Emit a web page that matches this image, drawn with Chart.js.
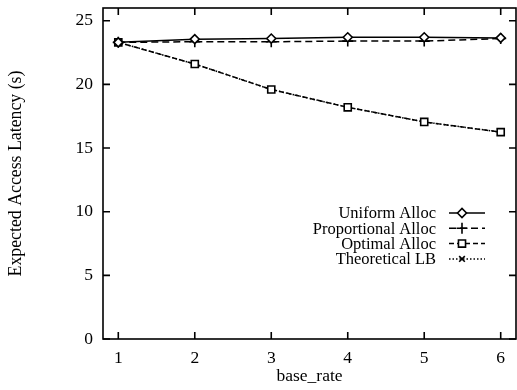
<!DOCTYPE html>
<html>
<head>
<meta charset="utf-8">
<script src="https://cdn.jsdelivr.net/npm/chart.js@4"></script>
<style>
  html, body { margin: 0; padding: 0; background: #fff; }
  #wrap { width: 517px; height: 390px; }
</style>
</head>
<body>
<div id="wrap"><canvas id="latencyChart" width="517" height="390"></canvas></div>
<script>
const baseRate = [1, 2, 3, 4, 5, 6];
const uniformAlloc = [23.3, 23.55, 23.6, 23.7, 23.7, 23.65];
const proportionalAlloc = [23.3, 23.35, 23.35, 23.4, 23.4, 23.6];
const optimalAlloc = [23.3, 21.6, 19.6, 18.2, 17.05, 16.25];
const theoreticalLB = [23.3, 21.6, 19.6, 18.2, 17.05, 16.25];
const yTicks = [0, 5, 10, 15, 20, 25];
const seriesNames = ["Uniform Alloc", "Proportional Alloc", "Optimal Alloc", "Theoretical LB"];

const FONT = "'Liberation Serif', 'DejaVu Serif', serif";
const ctx = document.getElementById("latencyChart").getContext("2d");

function toPoints(values) {
    return values.map((v, i) => ({ x: baseRate[i], y: v }));
}

const styles = [
    { dash: [], point: 'rectRot', radius: 4.5 },
    { dash: [7, 4], point: 'cross', radius: 5.5 },
    { dash: [5, 3], point: 'rect', radius: 5 },
    { dash: [1.5, 2], point: 'crossRot', radius: 4 }
];

const datasets = [uniformAlloc, proportionalAlloc, optimalAlloc, theoreticalLB].map((vals, i) => ({
    label: seriesNames[i],
    data: toPoints(vals),
    borderColor: '#000',
    backgroundColor: '#fff',
    borderWidth: 1.5,
    borderDash: styles[i].dash,
    pointStyle: styles[i].point,
    pointRadius: styles[i].radius,
    pointBorderWidth: 1.6,
    pointBorderColor: '#000',
    pointBackgroundColor: '#fff',
    tension: 0
}));

// inward ticks on every side plus frame
const frameTicks = {
    id: 'frameTicks',
    afterDraw(chart) {
        const { ctx, chartArea: a, scales } = chart;
        const len = 7;
        ctx.save();
        ctx.strokeStyle = '#000';
        ctx.lineWidth = 1.6;
        ctx.setLineDash([]);
        ctx.strokeRect(a.left, a.top, a.right - a.left, a.bottom - a.top);
        ctx.beginPath();
        scales.x.ticks.forEach(t => {
            const px = scales.x.getPixelForValue(t.value);
            ctx.moveTo(px, a.bottom); ctx.lineTo(px, a.bottom - len);
            ctx.moveTo(px, a.top); ctx.lineTo(px, a.top + len);
        });
        scales.y.ticks.forEach(t => {
            const py = scales.y.getPixelForValue(t.value);
            ctx.moveTo(a.left, py); ctx.lineTo(a.left + len, py);
            ctx.moveTo(a.right, py); ctx.lineTo(a.right - len, py);
        });
        ctx.stroke();
        ctx.restore();
    }
};

// gnuplot-like legend: right aligned text, line sample on the right
const gnuLegend = {
    id: 'gnuLegend',
    afterDraw(chart) {
        const { ctx } = chart;
        const textRight = 436, x0 = 449, x1 = 485, top = 213, step = 15.3;
        ctx.save();
        ctx.font = "16.5px " + FONT;
        ctx.textAlign = 'right';
        ctx.textBaseline = 'middle';
        chart.data.datasets.forEach((ds, i) => {
            const y = top + i * step;
            ctx.fillStyle = '#000';
            ctx.fillText(ds.label, textRight, y + 1);
            ctx.strokeStyle = '#000';
            ctx.lineWidth = ds.borderWidth;
            ctx.setLineDash(ds.borderDash);
            ctx.beginPath();
            ctx.moveTo(x0, y); ctx.lineTo(x1, y);
            ctx.stroke();
            ctx.setLineDash([]);
            ctx.fillStyle = '#fff';
            ctx.lineWidth = ds.pointBorderWidth;
            Chart.helpers.drawPoint(ctx, {
                pointStyle: ds.pointStyle,
                radius: ds.pointRadius,
                rotation: 0,
                borderWidth: ds.pointBorderWidth
            }, 462, y);
        });
        ctx.restore();
    }
};

const chart = new Chart(ctx, {
    type: 'line',
    data: { datasets: datasets },
    options: {
        responsive: false,
        animation: false,
        layout: { autoPadding: false, padding: { top: 8, right: 1, left: 0, bottom: 0 } },
        plugins: {
            legend: { display: false },
            tooltip: { enabled: false }
        },
        scales: {
            x: {
                type: 'linear',
                min: 0.8,
                max: 6.2,
                afterBuildTicks: s => { s.ticks = baseRate.map(v => ({ value: v })); },
                afterFit: s => { s.height = 51; s.paddingLeft = 0; s.paddingRight = 0; },
                grid: { display: false, drawTicks: false },
                border: { display: false },
                ticks: { color: '#000', font: { family: FONT, size: 17.5 }, padding: 9 },
                title: {
                    display: true,
                    text: 'base_rate',
                    color: '#000',
                    font: { family: FONT, size: 17.5 },
                    padding: { top: 0, bottom: 3 }
                }
            },
            y: {
                min: 0,
                max: 26,
                afterBuildTicks: s => { s.ticks = yTicks.map(v => ({ value: v })); },
                afterFit: s => { s.width = 103; s.paddingTop = 0; s.paddingBottom = 0; },
                grid: { display: false, drawTicks: false },
                border: { display: false },
                ticks: { color: '#000', font: { family: FONT, size: 17.5 }, padding: 10 },
                title: {
                    display: true,
                    text: 'Expected Access Latency (s)',
                    color: '#000',
                    font: { family: FONT, size: 17.8 },
                    padding: { top: 6, bottom: 0 }
                }
            }
        }
    },
    plugins: [frameTicks, gnuLegend]
});
</script>
</body>
</html>
